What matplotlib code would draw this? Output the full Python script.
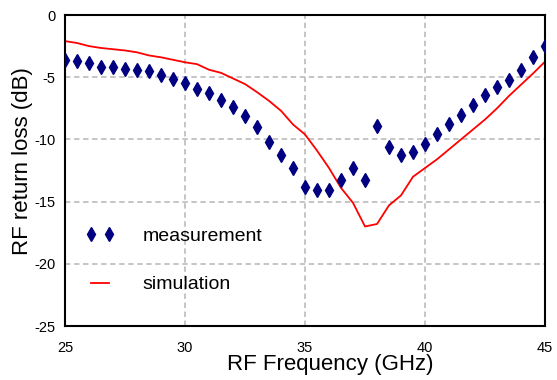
import matplotlib
matplotlib.use('Agg')
import matplotlib.pyplot as plt

# measured return loss, 0.5 GHz steps
meas_freq = [25 + 0.5 * i for i in range(41)]
meas_db = [-3.6, -3.7, -3.85, -4.15, -4.15, -4.35, -4.4, -4.5, -4.85, -5.15,
           -5.5, -5.95, -6.3, -6.8, -7.4, -8.15, -9.0, -10.2, -11.25, -12.3,
           -13.8, -14.1, -14.05, -13.25, -12.3, -13.25, -8.9, -10.6, -11.25, -11.05,
           -10.4, -9.55, -8.8, -8.0, -7.2, -6.4, -5.8, -5.2, -4.4, -3.4,
           -2.5]

sim_freq = [25 + 0.5 * i for i in range(41)]
sim_db = [-2.1, -2.25, -2.5, -2.65, -2.75, -2.85, -3.0, -3.25, -3.4, -3.6,
          -3.8, -3.95, -4.4, -4.65, -5.1, -5.55, -6.2, -6.9, -7.7, -8.8,
          -9.6, -10.9, -12.3, -13.9, -15.1, -17.0, -16.8, -15.3, -14.5, -13.0,
          -12.3, -11.6, -10.8, -10.0, -9.2, -8.4, -7.5, -6.5, -5.6, -4.7,
          -3.75]

plt.rcParams['font.family'] = ['Liberation Sans', 'DejaVu Sans']
plt.rcParams['axes.unicode_minus'] = False

fig = plt.figure(figsize=(5.57, 3.80), dpi=100)
ax = fig.add_axes([0.1167, 0.1421, 0.8618, 0.8184])

ax.plot(meas_freq, meas_db, linestyle='none', marker='d', ms=7.5,
        color='#000080', label='measurement', zorder=3)
ax.plot(sim_freq, sim_db, color='#ff0000', lw=1.3, label='simulation', zorder=2)

ax.set_xlim(25, 45)
ax.set_ylim(-25, 0)
ax.set_xticks([25, 30, 35, 40, 45])
ax.set_yticks([0, -5, -10, -15, -20, -25])
ax.tick_params(length=0, labelsize=10.5)
ax.tick_params(axis='x', pad=11)
ax.tick_params(axis='y', pad=7)
ax.grid(True, color='#c0c0c0', linestyle=(0, (3, 2)), lw=1.3)
for s in ax.spines.values():
    s.set_linewidth(1.5)
    s.set_color('black')

ax.set_xlabel('RF Frequency (GHz)', fontsize=16)
ax.set_ylabel('RF return loss (dB)', fontsize=16)
ax.xaxis.set_label_coords(0.552, -0.09)
ax.yaxis.set_label_coords(-0.066, 0.53)

ax.legend(loc='upper left', bbox_to_anchor=(0.042, 0.318), frameon=False,
          borderpad=0, borderaxespad=0,
          numpoints=2, handlelength=1.55, handletextpad=1.4, labelspacing=1.6,
          fontsize=14)

plt.savefig('out.png', dpi=100)
